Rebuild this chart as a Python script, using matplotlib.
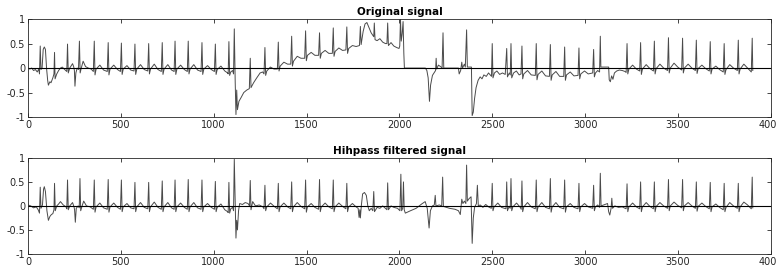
import matplotlib
matplotlib.use("Agg")
from matplotlib import pyplot as plt

# (sample, amplitude) vertices, original signal
orig_pts = [
    (0, 0.0), (10, -0.02), (20, 0.0), (30, -0.05), (40, -0.03), (50, -0.08), (58, -0.02), (62, -0.12),
    (66, 0.45), (70, -0.03), (76, 0.0), (82, 0.38), (88, 0.43), (94, 0.38), (100, 0.0), (106, -0.25),
    (110, -0.35), (118, -0.28), (124, -0.3), (134, -0.2), (140, -0.12), (143, 0.32), (146, -0.22),
    (155, -0.12), (165, -0.05), (175, 0.0), (185, 0.02), (195, -0.02), (209, -0.07), (213, 0.49),
    (217, -0.1), (225, 0.0), (240, 0.09), (246, 0.03), (250, -0.05), (253, -0.37), (258, -0.1),
    (265, 0.0), (272, -0.03), (277, 0.55), (281, -0.1), (287, 0.0), (297, 0.14), (310, 0.03), (325, 0.0),
    (340, -0.02),
    (352, -0.07), (357, 0.55), (361, -0.14), (367, -0.02), (387, 0.06), (407, -0.04),
    (427, -0.07), (432, 0.52), (436, -0.14), (442, -0.02), (462, 0.06), (482, -0.03),
    (498, -0.07), (503, 0.51), (507, -0.13), (513, -0.02), (533, 0.05), (553, -0.04),
    (571, -0.06), (576, 0.49), (580, -0.13), (586, -0.02), (606, 0.07), (626, -0.03),
    (645, -0.06), (650, 0.5), (654, -0.12), (660, -0.02), (680, 0.08), (700, -0.03),
    (718, -0.07), (723, 0.52), (727, -0.13), (733, -0.02), (753, 0.07), (773, -0.04),
    (787, -0.07), (792, 0.55), (796, -0.13), (802, -0.02), (822, 0.06), (842, -0.03),
    (858, -0.07), (863, 0.55), (867, -0.12), (873, -0.02), (893, 0.07), (913, -0.04),
    (932, -0.07), (937, 0.52), (941, -0.13), (947, -0.02), (967, 0.05), (987, -0.03),
    (1004, -0.07), (1009, 0.49), (1013, -0.13), (1019, -0.03), (1039, 0.04), (1060, -0.06), (1075, -0.1),
    (1078, -0.12), (1082, 0.54), (1086, -0.15), (1092, -0.08), (1102, -0.05), (1107, -0.12),
    (1111, 0.8), (1116, -0.3), (1120, -0.95), (1124, -0.45), (1128, -0.85), (1136, -0.68), (1148, -0.6),
    (1162, -0.5), (1178, -0.45), (1192, -0.42), (1197, 0.2), (1201, -0.4), (1215, -0.3), (1232, -0.2),
    (1250, -0.1), (1264, -0.08), (1271, -0.12),
    (1276, 0.42), (1280, -0.15), (1286, -0.06), (1305, 0.02), (1325, -0.02), (1343, -0.02),
    (1348, 0.53), (1352, -0.06), (1358, 0.04), (1378, 0.12), (1398, 0.08), (1415, 0.08),
    (1420, 0.65), (1424, 0.04), (1430, 0.14), (1450, 0.24), (1470, 0.2), (1490, 0.2),
    (1495, 0.76), (1499, 0.15), (1505, 0.26), (1525, 0.32), (1545, 0.26), (1565, 0.26),
    (1570, 0.72), (1574, 0.2), (1580, 0.3), (1600, 0.36), (1620, 0.3), (1639, 0.3),
    (1644, 0.82), (1648, 0.24), (1654, 0.34), (1674, 0.41), (1694, 0.36), (1712, 0.37),
    (1717, 0.84), (1721, 0.3), (1727, 0.4), (1747, 0.46), (1767, 0.44), (1785, 0.46),
    (1790, 0.85), (1794, 0.48), (1805, 0.75), (1815, 0.9), (1825, 0.93), (1835, 0.84), (1848, 0.72),
    (1858, 0.66), (1862, 0.64), (1865, 0.92), (1869, 0.58), (1880, 0.56), (1895, 0.6), (1910, 0.53),
    (1925, 0.5), (1933, 0.5), (1937, 0.92), (1941, 0.46), (1955, 0.52), (1970, 0.45), (1985, 0.42),
    (1998, 0.4), (2002, 0.45), (2006, 1.0), (2010, 0.55), (2015, 0.7), (2020, 0.95), (2024, 0.3),
    (2027, 0.0), (2140, 0.0), (2148, -0.05), (2155, -0.2), (2162, -0.68), (2168, -0.35), (2178, -0.15),
    (2190, -0.08), (2195, -0.05), (2198, 0.2), (2201, -0.02), (2210, 0.06), (2222, 0.03), (2230, 0.0),
    (2235, 0.72), (2239, 0.0), (2318, 0.0), (2322, -0.12), (2330, -0.05), (2336, 0.12), (2340, 0.0),
    (2350, 0.08), (2355, 0.02), (2362, 0.78), (2366, 0.02), (2388, 0.02), (2392, -0.97), (2398, -0.9),
    (2405, -0.62), (2413, -0.4), (2424, -0.25), (2435, -0.18), (2445, -0.22), (2455, -0.14),
    (2468, -0.17), (2480, -0.1), (2492, -0.15), (2496, -0.17), (2500, 0.5), (2504, -0.2), (2512, -0.1),
    (2525, -0.06), (2540, -0.13), (2555, -0.1), (2570, -0.13), (2578, 0.4), (2582, -0.18), (2592, -0.1),
    (2597, -0.14), (2601, 0.5), (2605, -0.2), (2615, -0.1), (2630, -0.06), (2645, -0.14), (2655, -0.12),
    (2660, 0.45), (2664, -0.22), (2670, -0.12), (2690, -0.05), (2710, -0.14), (2732, -0.15),
    (2737, 0.5), (2741, -0.24), (2747, -0.13), (2767, -0.06), (2787, -0.16), (2808, -0.17),
    (2813, 0.48), (2817, -0.25), (2823, -0.14), (2843, -0.07), (2863, -0.17), (2885, -0.17),
    (2890, 0.43), (2894, -0.25), (2900, -0.14), (2920, -0.08), (2940, -0.16), (2962, -0.15),
    (2967, 0.41), (2971, -0.22), (2977, -0.12), (2997, -0.06), (3017, -0.12), (3041, -0.1),
    (3046, 0.38), (3050, -0.18), (3056, -0.1), (3068, -0.05), (3078, -0.08),
    (3082, 0.65), (3085, 0.02), (3127, 0.02), (3130, -0.24), (3136, -0.28), (3143, -0.16), (3150, -0.23),
    (3158, -0.1), (3170, -0.06), (3185, -0.04), (3200, -0.05), (3215, -0.07), (3221, -0.09),
    (3226, 0.5), (3230, -0.12), (3236, -0.02), (3256, 0.06), (3276, -0.02), (3294, -0.06),
    (3299, 0.52), (3303, -0.13), (3309, -0.02), (3329, 0.07), (3349, -0.01), (3368, -0.06),
    (3373, 0.55), (3377, -0.12), (3383, -0.01), (3403, 0.08), (3423, 0.0), (3444, -0.05),
    (3449, 0.62), (3453, -0.1), (3459, 0.0), (3479, 0.1), (3499, 0.02), (3520, -0.04),
    (3525, 0.61), (3529, -0.1), (3535, 0.0), (3555, 0.08), (3575, 0.0), (3594, -0.05),
    (3599, 0.57), (3603, -0.11), (3609, -0.01), (3629, 0.06), (3649, -0.01), (3669, -0.06),
    (3674, 0.54), (3678, -0.12), (3684, -0.02), (3704, 0.04), (3724, -0.03), (3744, -0.08),
    (3749, 0.5), (3753, -0.13), (3759, -0.03), (3779, 0.07), (3799, 0.0), (3820, -0.05),
    (3825, 0.57), (3829, -0.12), (3835, -0.02), (3855, 0.08), (3875, 0.0), (3895, -0.08),
    (3900, 0.61), (3903, -0.05),
]

# high-pass filtered signal
filt_pts = [
    (0, 0.02), (15, 0.0), (30, -0.04), (45, -0.02), (55, -0.08), (62, -0.15), (66, 0.39), (70, -0.05),
    (78, 0.02), (84, 0.35), (88, 0.4), (94, 0.3), (102, -0.1), (110, -0.3), (118, -0.22), (126, -0.18),
    (134, -0.16), (140, -0.08), (143, 0.47), (147, -0.1), (155, 0.0), (165, 0.04), (175, 0.09),
    (190, 0.02), (205, -0.02), (209, -0.06), (213, 0.54), (217, -0.08), (225, 0.0), (240, 0.07),
    (248, -0.02), (251, -0.08), (255, -0.34), (260, -0.05), (270, 0.0), (276, -0.04), (280, 0.57),
    (284, -0.1), (290, -0.02), (300, 0.1), (315, 0.0), (335, -0.02),
    (352, -0.07), (357, 0.54), (361, -0.13), (367, -0.02), (387, 0.06), (407, -0.04),
    (427, -0.07), (432, 0.55), (436, -0.13), (442, -0.02), (462, 0.06), (482, -0.03),
    (498, -0.07), (503, 0.54), (507, -0.12), (513, -0.02), (533, 0.05), (553, -0.04),
    (571, -0.06), (576, 0.49), (580, -0.12), (586, -0.02), (606, 0.07), (626, -0.03),
    (645, -0.06), (650, 0.49), (654, -0.12), (660, -0.02), (680, 0.08), (700, -0.03),
    (718, -0.07), (723, 0.52), (727, -0.12), (733, -0.02), (753, 0.07), (773, -0.04),
    (787, -0.07), (792, 0.54), (796, -0.12), (802, -0.02), (822, 0.06), (842, -0.03),
    (858, -0.07), (863, 0.55), (867, -0.12), (873, -0.02), (893, 0.07), (913, -0.04),
    (932, -0.07), (937, 0.54), (941, -0.12), (947, -0.02), (967, 0.05), (987, -0.03),
    (1004, -0.07), (1009, 0.51), (1013, -0.12), (1019, -0.03), (1039, 0.04), (1060, -0.08), (1075, -0.12),
    (1078, -0.14), (1082, 0.49), (1086, -0.15), (1092, -0.06), (1102, -0.03), (1107, -0.1),
    (1111, 0.97), (1116, 0.0), (1120, -0.67), (1124, -0.3), (1128, -0.5), (1134, -0.1), (1140, 0.05),
    (1155, 0.03), (1170, 0.07), (1185, 0.05), (1193, 0.0), (1197, 0.53), (1201, -0.08), (1210, 0.09),
    (1225, 0.0), (1245, 0.02), (1265, -0.02), (1271, -0.06),
    (1276, 0.43), (1280, -0.1), (1286, -0.02), (1306, 0.06), (1326, -0.01), (1343, -0.06),
    (1348, 0.47), (1352, -0.12), (1358, -0.02), (1378, 0.06), (1398, -0.02), (1415, -0.06),
    (1420, 0.5), (1424, -0.12), (1430, -0.02), (1450, 0.07), (1470, -0.01), (1490, -0.06),
    (1495, 0.54), (1499, -0.13), (1505, -0.02), (1525, 0.05), (1545, -0.03), (1565, -0.07),
    (1570, 0.55), (1574, -0.12), (1580, -0.02), (1600, 0.06), (1620, -0.02), (1639, -0.06),
    (1644, 0.54), (1648, -0.12), (1654, -0.02), (1674, 0.06), (1694, -0.01), (1712, -0.06),
    (1717, 0.47), (1721, -0.12), (1727, -0.02), (1747, 0.05), (1767, -0.02), (1778, -0.05),
    (1783, -0.24), (1787, -0.08), (1790, -0.25), (1795, 0.0), (1802, 0.25), (1812, 0.28), (1822, 0.22),
    (1830, 0.0), (1838, -0.1), (1848, -0.05), (1857, -0.1), (1862, 0.3), (1866, -0.12), (1880, -0.03),
    (1895, -0.05), (1910, 0.0), (1925, -0.05), (1933, -0.08), (1937, 0.48), (1941, -0.08), (1955, 0.0),
    (1970, -0.03), (1990, -0.05), (2003, -0.1), (2008, 0.66), (2012, -0.1), (2018, -0.05), (2022, 0.5),
    (2026, -0.08), (2032, -0.15), (2060, -0.1), (2090, -0.05), (2120, 0.04), (2139, 0.09), (2150, -0.05),
    (2160, -0.46), (2167, -0.1), (2178, 0.0), (2188, 0.02), (2193, 0.22), (2197, 0.0), (2215, 0.02),
    (2228, 0.0), (2233, 0.6), (2237, -0.01), (2270, -0.05), (2300, -0.07), (2318, -0.1), (2328, -0.18),
    (2336, 0.14), (2342, 0.05), (2350, 0.1), (2358, 0.05), (2362, 0.85), (2366, 0.1), (2375, 0.15),
    (2386, 0.19), (2392, -0.78), (2398, -0.25), (2405, -0.03), (2415, 0.05), (2420, 0.43), (2425, 0.0),
    (2435, 0.02), (2450, -0.03), (2465, 0.03), (2480, -0.02), (2495, -0.05),
    (2500, 0.47), (2504, -0.1), (2510, -0.02), (2530, 0.06), (2550, -0.03), (2574, -0.06),
    (2578, 0.5), (2582, -0.1), (2590, -0.02), (2597, -0.05),
    (2601, 0.57), (2605, -0.1), (2611, -0.02), (2631, 0.06), (2651, -0.03), (2656, -0.07),
    (2660, 0.52), (2664, -0.12), (2670, -0.02), (2690, 0.07), (2710, -0.02), (2732, -0.06),
    (2737, 0.54), (2741, -0.12), (2747, -0.02), (2767, 0.07), (2787, -0.03), (2808, -0.06),
    (2813, 0.57), (2817, -0.13), (2823, -0.02), (2843, 0.07), (2863, -0.03), (2885, -0.06),
    (2890, 0.54), (2894, -0.13), (2900, -0.02), (2920, 0.05), (2940, -0.03), (2962, -0.06),
    (2967, 0.47), (2971, -0.12), (2977, -0.02), (2997, 0.05), (3017, -0.02), (3041, -0.05),
    (3046, 0.43), (3050, -0.1), (3056, -0.02), (3068, 0.02), (3078, -0.03),
    (3082, 0.68), (3086, 0.0), (3121, 0.05), (3127, -0.12), (3133, -0.19), (3140, -0.05), (3144, 0.16),
    (3148, -0.05), (3160, 0.0), (3180, -0.03), (3200, -0.02), (3221, -0.06),
    (3226, 0.46), (3230, -0.12), (3236, -0.02), (3256, 0.06), (3276, -0.02), (3294, -0.06),
    (3299, 0.5), (3303, -0.12), (3309, -0.02), (3329, 0.07), (3349, -0.01), (3368, -0.06),
    (3373, 0.5), (3377, -0.12), (3383, -0.01), (3403, 0.07), (3423, 0.0), (3444, -0.05),
    (3449, 0.55), (3453, -0.1), (3459, 0.0), (3479, 0.08), (3499, 0.01), (3520, -0.04),
    (3525, 0.55), (3529, -0.1), (3535, 0.0), (3555, 0.07), (3575, 0.0), (3594, -0.05),
    (3599, 0.5), (3603, -0.11), (3609, -0.01), (3629, 0.06), (3649, -0.01), (3669, -0.06),
    (3674, 0.49), (3678, -0.12), (3684, -0.02), (3704, 0.04), (3724, -0.03), (3744, -0.08),
    (3749, 0.47), (3753, -0.12), (3759, -0.03), (3779, 0.07), (3799, 0.0), (3820, -0.05),
    (3825, 0.47), (3829, -0.12), (3835, -0.02), (3855, 0.08), (3875, 0.02), (3895, -0.06),
    (3900, 0.6), (3903, -0.04),
]

titles = ['Original signal', 'Hihpass filtered signal']
x_ticks = [0, 500, 1000, 1500, 2000, 2500, 3000, 3500, 4000]
y_ticks = [-1, -0.5, 0, 0.5, 1]
y_labels = ['-1', '-0.5', '0', '0.5', '1']

fig = plt.figure(figsize=(7.77, 2.69), dpi=100)
ax_top = fig.add_axes([0.036, 0.565, 0.956, 0.364])
ax_bot = fig.add_axes([0.036, 0.056, 0.956, 0.357])

for ax, pts, title in zip([ax_top, ax_bot], [orig_pts, filt_pts], titles):
    t, v = zip(*pts)
    ax.plot(t, v, color='#4a4a4a', lw=0.7)
    ax.axhline(0, color='black', lw=0.8)
    ax.set_xlim(0, 4000)
    ax.set_ylim(-1, 1)
    ax.set_xticks(x_ticks)
    ax.set_yticks(y_ticks)
    ax.set_yticklabels(y_labels)
    ax.tick_params(direction='in', top=True, right=True, length=3, width=0.6,
                   labelsize=7, colors='#262626', pad=2)
    for s in ax.spines.values():
        s.set_color('#262626')
        s.set_linewidth(0.6)
    ax.set_title(title, fontsize=7.5, fontweight='bold', pad=3)

fig.savefig('out.png', dpi=100)
